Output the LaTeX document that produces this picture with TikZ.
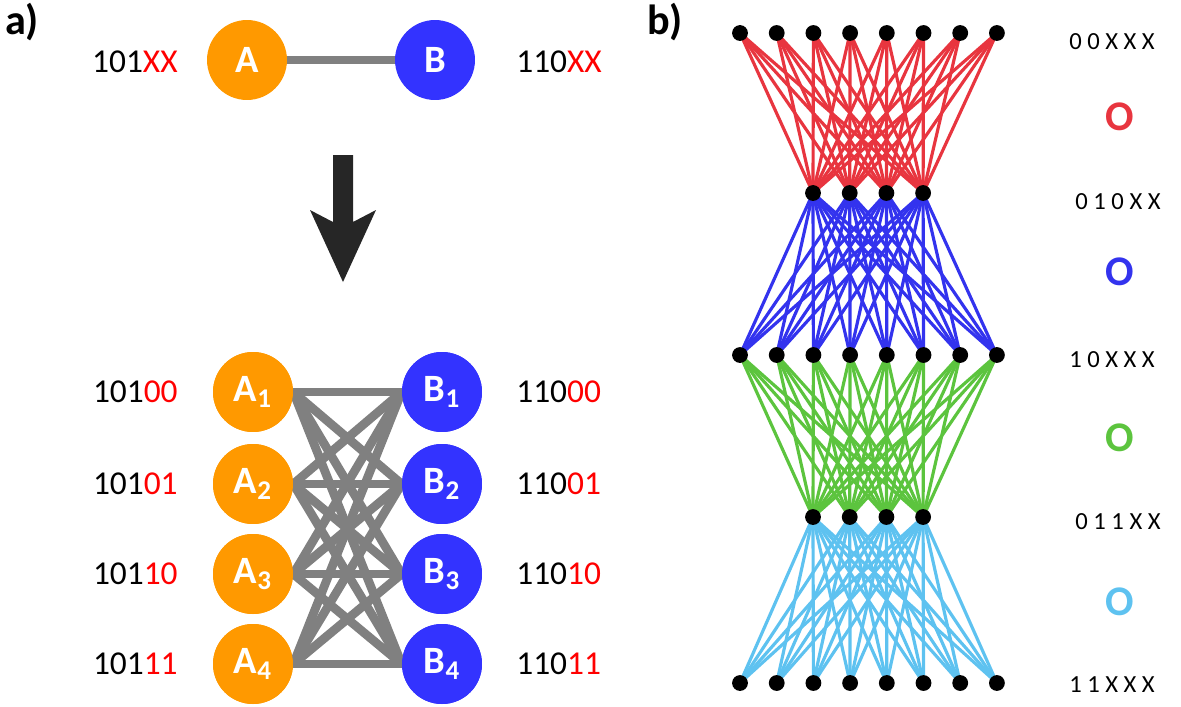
\documentclass[tikz,border=0pt]{standalone}
\usepackage{fontspec}
\setmainfont{Carlito}
\usetikzlibrary{positioning}
\definecolor{anode}{HTML}{FF9900}
\definecolor{bnode}{HTML}{3333FF}
\definecolor{redl}{HTML}{E8353F}
\definecolor{bluel}{HTML}{3333EE}
\definecolor{greenl}{HTML}{5CC43E}
\definecolor{cyanl}{HTML}{5EC2F0}
\begin{document}
\begin{tikzpicture}[x=0.02cm, y=-0.02cm,
  ball/.style={circle, minimum size=1.6cm, inner sep=0pt, text=white, font=\fontsize{22}{24}\selectfont\bfseries},
  code/.style={font=\fontsize{19}{22}\selectfont, inner sep=0pt},
  bits/.style={font=\fontsize{14}{16}\selectfont, inner sep=0pt},
  tag/.style={font=\fontsize{24}{26}\selectfont\bfseries, inner sep=0pt},
  link/.style={draw=black!50, line width=5pt},
  dot/.style={circle, fill=black, inner sep=0pt, minimum size=9pt}]
\useasboundingbox (0,0) rectangle (1181,707);
% panel a
\node[tag] (la) at (22,22) {a)};
\node[ball, fill=anode] (A) at (247,60) {A};
\node[ball, fill=bnode] (B) at (435,60) {B};
\draw[link] (A) -- (B);
\node[code, anchor=east] (ca) at (178,62) {101\textcolor{red}{XX}};
\node[code, anchor=west] (cb) at (516,62) {110\textcolor{red}{XX}};
\coordinate (arrtop) at (343,155);
\coordinate (arrbot) at (343,282);
\fill[black!85] (333,155) -- (353,155) -- (353,222) -- (376,210) -- (arrbot) -- (310,210) -- (333,222) -- cycle;
\foreach \i/\y/\b in {1/392/00, 2/484/01, 3/574/10, 4/664/11} {
  \node[ball, fill=anode] (A\i) at (253,\y) {A$_{\mathbf{\i}}$};
  \node[ball, fill=bnode] (B\i) at (442,\y) {B$_{\mathbf{\i}}$};
  \node[code, anchor=east] (ca\i) at (178,\y) {101\textcolor{red}{\b}};
  \node[code, anchor=west] (cb\i) at (516,\y) {110\textcolor{red}{\b}};
}
\begin{scope}[on background layer/.style={}]
\foreach \i in {1,...,4}
  \foreach \j in {1,...,4}
    \draw[link] (A\i.east) -- (B\j.west);
\end{scope}
\foreach \i in {1,...,4} {
  \node[ball, fill=anode] at (A\i) {A$_{\mathbf{\i}}$};
  \node[ball, fill=bnode] at (B\i) {B$_{\mathbf{\i}}$};
}
% panel b
\node[tag] (lb) at (665,22) {b)};
\foreach \r/\y in {1/33, 3/355, 5/683}
  \foreach \k in {0,...,7}
    \coordinate (n\r-\k) at (740+36.7*\k,\y);
\foreach \r/\y in {2/193, 4/517}
  \foreach \k in {0,...,3}
    \coordinate (n\r-\k) at (813+36.7*\k,\y);
\foreach \k in {0,...,7}
  \foreach \m in {0,...,3} {
    \draw[redl, line width=1.8pt] (n1-\k) -- (n2-\m);
    \draw[bluel, line width=1.8pt] (n3-\k) -- (n2-\m);
    \draw[greenl, line width=1.8pt] (n3-\k) -- (n4-\m);
    \draw[cyanl, line width=1.8pt] (n5-\k) -- (n4-\m);
  }
\foreach \r in {1,3,5}
  \foreach \k in {0,...,7}
    \node[dot] at (n\r-\k) {};
\foreach \r in {2,4}
  \foreach \k in {0,...,3}
    \node[dot] at (n\r-\k) {};
\node[bits] (s1) at (1112,42) {0 0 X X X};
\node[bits] (s2) at (1118,202) {0 1 0 X X};
\node[bits] (s3) at (1112,360) {1 0 X X X};
\node[bits] (s4) at (1118,522) {0 1 1 X X};
\node[bits] (s5) at (1112,685) {1 1 X X X};
\node[tag, text=redl] (o1) at (1120,117) {O};
\node[tag, text=bluel] (o2) at (1120,272) {O};
\node[tag, text=greenl] (o3) at (1120,438) {O};
\node[tag, text=cyanl] (o4) at (1120,602) {O};
\end{tikzpicture}
\end{document}
